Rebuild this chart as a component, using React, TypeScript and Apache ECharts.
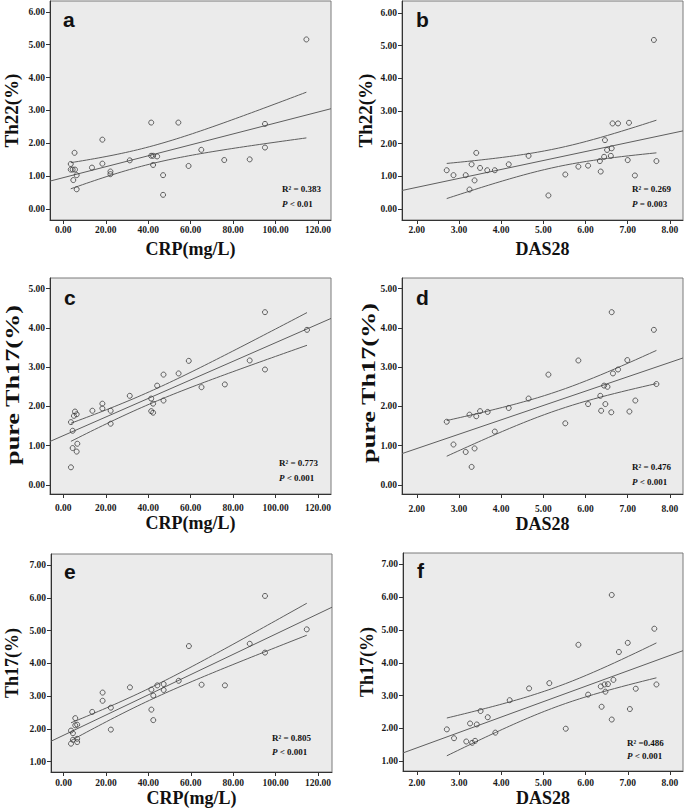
import React, { useEffect, useRef } from "react";
import * as echarts from "echarts";

// ---------- data ----------
// a: Th22 vs CRP
const crpA = [3.5, 3.5, 4.4, 5.5, 5.3, 4.7, 6.3, 6.3, 13.5, 18.4, 18.4, 22.2, 22.2, 31.3, 41.4, 41.4, 42.3, 44.2, 42.3, 47.0, 47.0, 54.2, 59.0, 65.0, 75.8, 87.8, 95.0, 95.0, 114.5];
const th22A = [1.37, 1.2, 1.2, 1.2, 1.71, 0.88, 1.03, 0.6, 1.26, 2.11, 1.38, 1.14, 1.06, 1.48, 2.63, 1.62, 1.62, 1.6, 1.34, 1.03, 0.43, 2.63, 1.31, 1.8, 1.49, 1.51, 2.59, 1.87, 5.16];
// b: Th22 vs DAS28
const dasB = [2.71, 2.87, 3.16, 3.3, 3.41, 3.37, 3.25, 3.5, 3.67, 3.85, 4.18, 4.65, 5.12, 5.52, 5.83, 6.06, 6.34, 6.36, 6.46, 6.44, 6.51, 6.6, 6.62, 6.64, 6.77, 7.03, 7.0, 7.17, 7.68, 7.62];
const th22B = [1.19, 1.04, 1.04, 1.37, 1.72, 0.88, 0.6, 1.26, 1.19, 1.19, 1.37, 1.63, 0.42, 1.06, 1.3, 1.33, 1.47, 1.15, 2.11, 1.6, 1.81, 1.63, 1.86, 2.62, 2.62, 2.64, 1.5, 1.03, 1.47, 5.17];
// c: pure Th17 vs CRP
const crpC = [3.6, 3.6, 4.4, 4.4, 5.5, 5.0, 6.3, 6.6, 6.3, 13.7, 18.4, 18.4, 22.3, 22.3, 31.3, 41.4, 41.4, 42.3, 42.3, 44.2, 47.2, 47.2, 54.3, 59.1, 65.1, 76.1, 87.8, 95.0, 95.0, 114.8];
const pth17C = [0.45, 1.6, 1.38, 0.94, 1.87, 1.76, 1.8, 1.05, 0.85, 1.89, 2.07, 1.95, 1.89, 1.56, 2.27, 2.2, 1.88, 2.07, 1.84, 2.53, 2.81, 2.15, 2.84, 3.16, 2.49, 2.56, 3.17, 4.4, 2.94, 3.95];
// d: pure Th17 vs DAS28
const dasD = [2.71, 2.87, 3.16, 3.25, 3.3, 3.37, 3.41, 3.5, 3.68, 3.85, 4.18, 4.65, 5.12, 5.52, 5.83, 6.06, 6.35, 6.37, 6.44, 6.47, 6.52, 6.61, 6.62, 6.65, 6.77, 6.99, 7.04, 7.18, 7.62, 7.68];
const pth17D = [1.61, 1.03, 0.84, 1.79, 0.46, 0.93, 1.75, 1.88, 1.86, 1.36, 1.96, 2.2, 2.81, 1.57, 3.17, 2.06, 2.27, 1.89, 2.53, 2.06, 2.5, 1.85, 4.4, 2.84, 2.94, 3.18, 1.87, 2.15, 3.95, 2.57];
// e: Th17 vs CRP
const crpE = [3.5, 3.5, 4.4, 4.4, 5.5, 5.5, 6.4, 6.4, 6.4, 13.5, 18.4, 18.4, 22.3, 22.3, 31.3, 41.4, 41.4, 42.3, 42.3, 44.2, 47.2, 47.2, 54.3, 59.1, 65.1, 76.1, 87.8, 95.0, 95.0, 114.7];
const th17E = [1.55, 1.95, 1.87, 1.67, 2.33, 2.11, 2.13, 1.7, 1.6, 2.52, 3.11, 2.86, 2.65, 1.98, 3.27, 3.2, 2.59, 3.02, 2.27, 3.33, 3.37, 3.19, 3.47, 4.53, 3.35, 3.33, 4.6, 6.06, 4.33, 5.04];
// f: Th17 vs DAS28
const dasF = [2.71, 2.88, 3.17, 3.26, 3.31, 3.38, 3.42, 3.51, 3.68, 3.86, 4.2, 4.66, 5.14, 5.53, 5.83, 6.06, 6.36, 6.38, 6.45, 6.47, 6.53, 6.62, 6.62, 6.66, 6.79, 7.0, 7.05, 7.19, 7.63, 7.68];
const th17F = [1.97, 1.7, 1.6, 2.15, 1.56, 1.62, 2.12, 2.53, 2.34, 1.87, 2.86, 3.22, 3.38, 1.99, 4.55, 3.03, 3.28, 2.66, 3.34, 3.12, 3.35, 2.27, 6.07, 3.48, 4.33, 4.61, 2.59, 3.21, 5.04, 3.34];

// tick values
const crpTicks = [0, 20, 40, 60, 80, 100, 120];
const dasTicks = [2, 3, 4, 5, 6, 7, 8];
const th22Ticks = [0, 1, 2, 3, 4, 5, 6];
const pureTicks = [0, 1, 2, 3, 4, 5];
const th17Ticks = [1, 2, 3, 4, 5, 6, 7];

// statistics texts
const r2Texts = ["R\u00B2 = 0.383", "R\u00B2 = 0.269", "R\u00B2 = 0.773", "R\u00B2 = 0.476", "R\u00B2 = 0.805", "R\u00B2 =0.486"];
const pTexts = ["< 0.01", "= 0.003", "< 0.001", "< 0.001", "< 0.001", "< 0.001"];
const letters = ["a", "b", "c", "d", "e", "f"];
const xNames = ["CRP(mg/L)", "DAS28", "CRP(mg/L)", "DAS28", "CRP(mg/L)", "DAS28"];
const yNames = ["Th22(%)", "Th22(%)", "pure Th17(%)", "pure Th17(%)", "Th17(%)", "Th17(%)"];

// ---------- layout ----------
const SERIF = '"Liberation Serif", "Times New Roman", serif';
const SANS = '"Liberation Sans", Arial, sans-serif';
const T_CRIT = 2.05;

const panels = [
  { xs: crpA, ys: th22A, xT: crpTicks, yT: th22Ticks, xr: [-6.27, 126.1], yr: [-0.335, 6.33],
    g: { left: 50, top: 1, width: 281, height: 219 }, xGap: 20, yGap: 29, yFs: 19, lblM: 5,
    stat: [282, 189, 204], letter: [63, 19] },
  { xs: dasB, ys: th22B, xT: dasTicks, yT: th22Ticks, xr: [1.65, 8.31], yr: [-0.33, 6.36],
    g: { left: 402, top: 1, width: 281, height: 219 }, xGap: 20, yGap: 27, yFs: 19, lblM: 5,
    stat: [632, 189, 204], letter: [416, 19] },
  { xs: crpC, ys: pth17C, xT: crpTicks, yT: pureTicks, xr: [-6.27, 126.1], yr: [-0.23, 5.27],
    g: { left: 50, top: 278, width: 281, height: 216 }, xGap: 20, yGap: 27, yFs: 19, lblM: 9,
    stat: [279, 463, 478], letter: [64, 297], yTitle: [13, 385] },
  { xs: dasD, ys: pth17D, xT: dasTicks, yT: pureTicks, xr: [1.65, 8.31], yr: [-0.23, 5.27],
    g: { left: 402, top: 278, width: 281, height: 216 }, xGap: 17, yGap: 24, yFs: 19, lblM: 10,
    stat: [632, 467, 482], letter: [416, 297], yTitle: [369, 383] },
  { xs: crpE, ys: th17E, xT: crpTicks, yT: th17Ticks, xr: [-5.94, 126.6], yr: [0.686, 7.34],
    g: { left: 51, top: 554, width: 281, height: 218 }, xGap: 14, yGap: 30, yFs: 18, lblM: 6,
    stat: [272, 738, 752], letter: [64, 571] },
  { xs: dasF, ys: th17F, xT: dasTicks, yT: th17Ticks, xr: [1.67, 8.31], yr: [0.7, 7.35],
    g: { left: 403, top: 553, width: 280, height: 218 }, xGap: 17, yGap: 27, yFs: 18, lblM: 7,
    stat: [627, 743, 756], letter: [417, 570] },
];

function linFit(xs: number[], ys: number[]) {
  const n = xs.length;
  const mx = xs.reduce((s, v) => s + v, 0) / n;
  const my = ys.reduce((s, v) => s + v, 0) / n;
  let sxx = 0, sxy = 0;
  for (let i = 0; i < n; i++) {
    sxx += (xs[i] - mx) ** 2;
    sxy += (xs[i] - mx) * (ys[i] - my);
  }
  const b = sxy / sxx;
  const a = my - b * mx;
  let sse = 0;
  for (let i = 0; i < n; i++) sse += (ys[i] - a - b * xs[i]) ** 2;
  const s = Math.sqrt(sse / (n - 2));
  return { n, mx, sxx, a, b, s };
}

function buildOption() {
  const grid: any[] = [];
  const xAxis: any[] = [];
  const yAxis: any[] = [];
  const series: any[] = [];
  const graphic: any[] = [];
  const lineColor = "#5e5e5e";

  panels.forEach((p, i) => {
    grid.push({ ...p.g, show: true, backgroundColor: "#ebebeb", borderColor: "#7a7a7a", borderWidth: 1 });
    const labelStyle = { fontFamily: SERIF, fontWeight: "bold", fontSize: 9.5, color: "#1a1a1a" };
    xAxis.push({
      type: "value", gridIndex: i, min: p.xr[0], max: p.xr[1],
      name: xNames[i], nameLocation: "middle", nameGap: p.xGap,
      nameTextStyle: { fontFamily: SERIF, fontWeight: "bold", fontSize: 18, color: "#111" },
      axisLine: { show: true, onZero: false, lineStyle: { color: "#333", width: 1 } },
      axisTick: { show: true, length: 4, customValues: p.xT, lineStyle: { color: "#333" } },
      axisLabel: { ...labelStyle, margin: p.lblM, customValues: p.xT, formatter: (v: number) => v.toFixed(2) },
      splitLine: { show: false },
    });
    yAxis.push({
      type: "value", gridIndex: i, min: p.yr[0], max: p.yr[1],
      name: p.yTitle ? "" : yNames[i], nameLocation: "middle", nameGap: p.yGap,
      nameTextStyle: { fontFamily: SERIF, fontWeight: "bold", fontSize: p.yFs, color: "#111" },
      axisLine: { show: true, onZero: false, lineStyle: { color: "#333", width: 1 } },
      axisTick: { show: true, length: 4, customValues: p.yT, lineStyle: { color: "#333" } },
      axisLabel: { ...labelStyle, margin: 5, customValues: p.yT, formatter: (v: number) => v.toFixed(2) },
      splitLine: { show: false },
    });

    const f = linFit(p.xs, p.ys);
    const xmin = Math.min(...p.xs);
    const xmax = Math.max(...p.xs);
    const regData = [
      [p.xr[0], f.a + f.b * p.xr[0]],
      [p.xr[1], f.a + f.b * p.xr[1]],
    ];
    const up: number[][] = [];
    const lo: number[][] = [];
    const N = 60;
    for (let k = 0; k <= N; k++) {
      const x = xmin + ((xmax - xmin) * k) / N;
      const yh = f.a + f.b * x;
      const h = T_CRIT * f.s * Math.sqrt(1 / f.n + (x - f.mx) ** 2 / f.sxx);
      up.push([x, yh + h]);
      lo.push([x, yh - h]);
    }
    const lineBase = {
      type: "line", xAxisIndex: i, yAxisIndex: i, showSymbol: false, symbol: "none",
      silent: true, z: 2, clip: true, lineStyle: { color: lineColor, width: 1 },
    };
    series.push({ ...lineBase, data: regData });
    series.push({ ...lineBase, data: up });
    series.push({ ...lineBase, data: lo });
    series.push({
      type: "scatter", xAxisIndex: i, yAxisIndex: i, symbol: "circle", symbolSize: 5, z: 3,
      itemStyle: { color: "rgba(0,0,0,0)", borderColor: "#3c3c3c", borderWidth: 1 },
      data: p.xs.map((x, k) => [x, p.ys[k]]),
    });

    graphic.push({
      type: "text", x: p.letter[0], y: p.letter[1], silent: true,
      style: { text: letters[i], fontFamily: SANS, fontWeight: "bold", fontSize: 21, fill: "#111", align: "left", verticalAlign: "middle" },
    });
    graphic.push({
      type: "text", x: p.stat[0], y: p.stat[1], silent: true,
      style: { text: r2Texts[i], fontFamily: SERIF, fontWeight: "bold", fontSize: 9, fill: "#111", align: "left", verticalAlign: "middle" },
    });
    graphic.push({
      type: "text", x: p.stat[0], y: p.stat[2], silent: true,
      style: {
        text: "{i|P} " + pTexts[i],
        fontFamily: SERIF, fontWeight: "bold", fontSize: 9, fill: "#111", align: "left", verticalAlign: "middle",
        rich: { i: { fontFamily: SERIF, fontWeight: "bold", fontStyle: "italic", fontSize: 9, fill: "#111" } },
      },
    });
    if (p.yTitle) {
      graphic.push({
        type: "text", x: p.yTitle[0], y: p.yTitle[1], rotation: Math.PI / 2, scaleX: 1.38, silent: true,
        style: { text: yNames[i], fontFamily: SERIF, fontWeight: "bold", fontSize: 19, fill: "#111", align: "center", verticalAlign: "middle" },
      });
    }
  });

  return { animation: false, backgroundColor: "#ffffff", grid, xAxis, yAxis, series, graphic };
}

export default function App() {
  const ref = useRef<HTMLDivElement>(null);
  useEffect(() => {
    if (!ref.current) return;
    const chart = echarts.init(ref.current, null, { renderer: "svg" });
    chart.setOption(buildOption() as any);
    return () => chart.dispose();
  }, []);
  return <div ref={ref} style={{ position: "absolute", left: 0, top: 0, width: 685, height: 809 }} />;
}
